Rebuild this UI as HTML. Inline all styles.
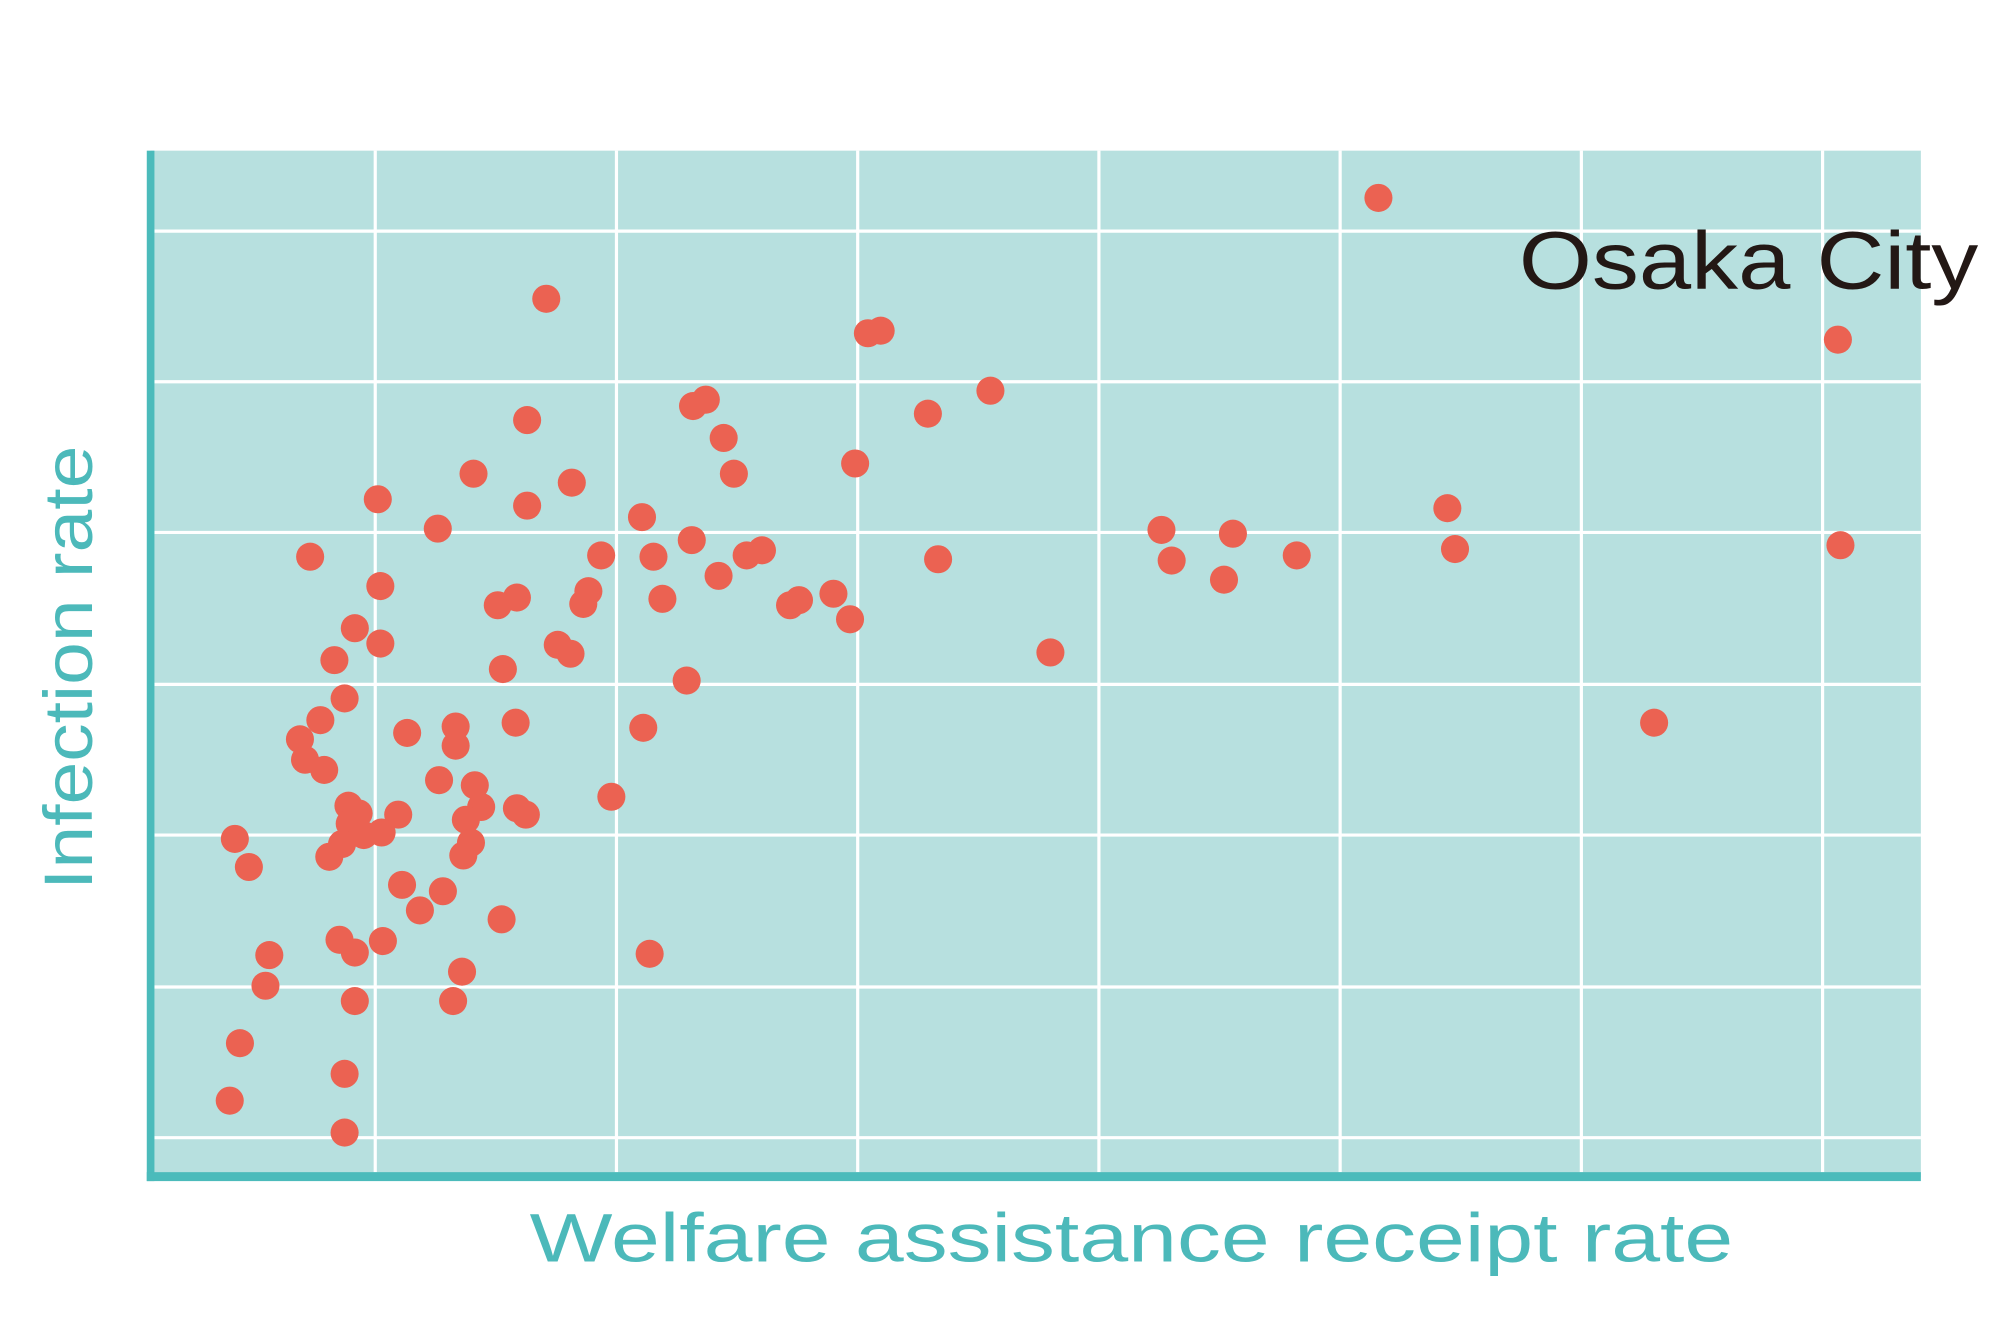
<!DOCTYPE html>
<html><head><meta charset="utf-8"><style>html,body{margin:0;padding:0;background:#fff}svg{display:block}</style></head>
<body>
<svg width="2000" height="1319" viewBox="0 0 1567 1033" preserveAspectRatio="none" xmlns="http://www.w3.org/2000/svg">
<rect x="118" y="118" width="1387" height="804" fill="#b7e0df"/>
<g stroke="#fff" stroke-width="2.5">
<line x1="294" y1="118" x2="294" y2="918"/><line x1="483" y1="118" x2="483" y2="918"/><line x1="672" y1="118" x2="672" y2="918"/><line x1="861" y1="118" x2="861" y2="918"/><line x1="1050" y1="118" x2="1050" y2="918"/><line x1="1239" y1="118" x2="1239" y2="918"/><line x1="1428" y1="118" x2="1428" y2="918"/>
<line x1="121" y1="181" x2="1505" y2="181"/><line x1="121" y1="299" x2="1505" y2="299"/><line x1="121" y1="417" x2="1505" y2="417"/><line x1="121" y1="536" x2="1505" y2="536"/><line x1="121" y1="654" x2="1505" y2="654"/><line x1="121" y1="773" x2="1505" y2="773"/><line x1="121" y1="891" x2="1505" y2="891"/>
</g>
<rect x="115" y="118" width="6" height="807" fill="#4bbbbb"/>
<rect x="115" y="918" width="1390" height="7" fill="#4bbbbb"/>
<g fill="#eb6252">
<circle cx="1080" cy="155" r="11"/><circle cx="428" cy="234" r="11"/><circle cx="680" cy="261" r="11"/><circle cx="690" cy="259" r="11"/><circle cx="1440" cy="266" r="11"/><circle cx="776" cy="306" r="11"/><circle cx="727" cy="324" r="11"/><circle cx="553" cy="313" r="11"/><circle cx="543" cy="318" r="11"/><circle cx="413" cy="329" r="11"/><circle cx="567" cy="343" r="11"/><circle cx="575" cy="371" r="11"/><circle cx="371" cy="371" r="11"/><circle cx="448" cy="378" r="11"/><circle cx="670" cy="363" r="11"/><circle cx="296" cy="391" r="11"/><circle cx="413" cy="396" r="11"/><circle cx="503" cy="405" r="11"/><circle cx="1134" cy="398" r="11"/><circle cx="343" cy="414" r="11"/><circle cx="910" cy="415" r="11"/><circle cx="966" cy="418" r="11"/><circle cx="542" cy="423" r="11"/><circle cx="1442" cy="427" r="11"/><circle cx="1140" cy="430" r="11"/><circle cx="597" cy="431" r="11"/><circle cx="585" cy="435" r="11"/><circle cx="471" cy="435" r="11"/><circle cx="512" cy="436" r="11"/><circle cx="243" cy="436" r="11"/><circle cx="735" cy="438" r="11"/><circle cx="918" cy="439" r="11"/><circle cx="1016" cy="435" r="11"/><circle cx="959" cy="454" r="11"/><circle cx="563" cy="451" r="11"/><circle cx="298" cy="459" r="11"/><circle cx="405" cy="468" r="11"/><circle cx="390" cy="474" r="11"/><circle cx="461" cy="463" r="11"/><circle cx="457" cy="473" r="11"/><circle cx="519" cy="469" r="11"/><circle cx="626" cy="470" r="11"/><circle cx="619" cy="474" r="11"/><circle cx="653" cy="465" r="11"/><circle cx="666" cy="485" r="11"/><circle cx="278" cy="492" r="11"/><circle cx="298" cy="504" r="11"/><circle cx="437" cy="505" r="11"/><circle cx="447" cy="512" r="11"/><circle cx="823" cy="511" r="11"/><circle cx="262" cy="517" r="11"/><circle cx="394" cy="524" r="11"/><circle cx="538" cy="533" r="11"/><circle cx="270" cy="547" r="11"/><circle cx="251" cy="564" r="11"/><circle cx="404" cy="566" r="11"/><circle cx="1296" cy="566" r="11"/><circle cx="235" cy="579" r="11"/><circle cx="319" cy="574" r="11"/><circle cx="357" cy="569" r="11"/><circle cx="357" cy="584" r="11"/><circle cx="239" cy="595" r="11"/><circle cx="254" cy="603" r="11"/><circle cx="504" cy="570" r="11"/><circle cx="344" cy="611" r="11"/><circle cx="372" cy="615" r="11"/><circle cx="377" cy="632" r="11"/><circle cx="365" cy="642" r="11"/><circle cx="405" cy="633" r="11"/><circle cx="412" cy="638" r="11"/><circle cx="479" cy="624" r="11"/><circle cx="273" cy="631" r="11"/><circle cx="281" cy="637" r="11"/><circle cx="312" cy="638" r="11"/><circle cx="274" cy="645" r="11"/><circle cx="285" cy="654" r="11"/><circle cx="299" cy="652" r="11"/><circle cx="184" cy="657" r="11"/><circle cx="268" cy="661" r="11"/><circle cx="369" cy="660" r="11"/><circle cx="363" cy="670" r="11"/><circle cx="258" cy="671" r="11"/><circle cx="195" cy="679" r="11"/><circle cx="315" cy="693" r="11"/><circle cx="347" cy="698" r="11"/><circle cx="329" cy="713" r="11"/><circle cx="393" cy="720" r="11"/><circle cx="266" cy="736" r="11"/><circle cx="300" cy="737" r="11"/><circle cx="211" cy="748" r="11"/><circle cx="278" cy="746" r="11"/><circle cx="509" cy="747" r="11"/><circle cx="208" cy="772" r="11"/><circle cx="362" cy="761" r="11"/><circle cx="278" cy="784" r="11"/><circle cx="355" cy="784" r="11"/><circle cx="188" cy="817" r="11"/><circle cx="270" cy="841" r="11"/><circle cx="180" cy="862" r="11"/><circle cx="270" cy="887" r="11"/>
</g>
<text x="1190" y="226" font-family="Liberation Sans, sans-serif" font-size="64" fill="#231815" textLength="360" lengthAdjust="spacingAndGlyphs">Osaka City</text>
<text x="415" y="988" font-family="Liberation Sans, sans-serif" font-size="54" fill="#4cb9ba" textLength="943" lengthAdjust="spacingAndGlyphs">Welfare assistance receipt rate</text>
<text transform="translate(72,697) rotate(-90)" x="0" y="0" font-family="Liberation Sans, sans-serif" font-size="54" fill="#4cb9ba" textLength="348" lengthAdjust="spacingAndGlyphs">Infection rate</text>
</svg>
</body></html>
